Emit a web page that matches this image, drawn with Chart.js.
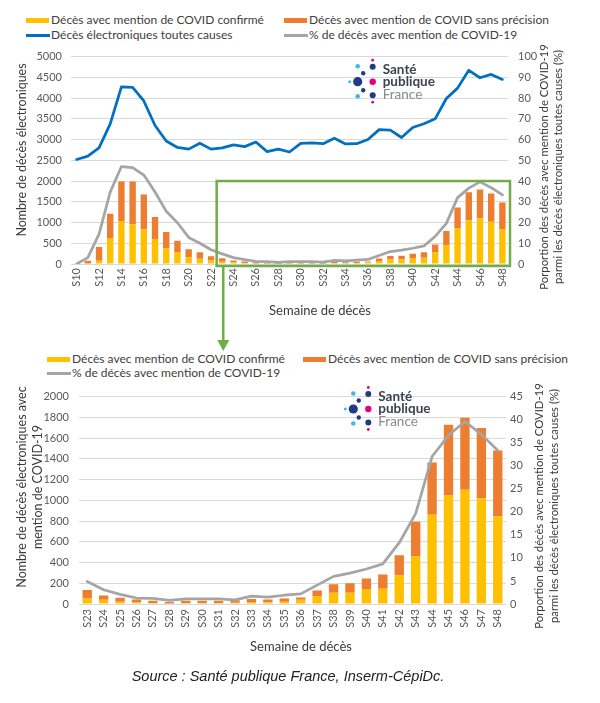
<!DOCTYPE html>
<html lang="fr">
<head>
<meta charset="utf-8">
<title>Décès avec mention de COVID-19</title>
<script src="https://cdn.jsdelivr.net/npm/chart.js@4.4.1/dist/chart.umd.min.js"></script>
<style>
html, body { margin: 0; padding: 0; background: #fff; }
#page { position: relative; width: 600px; height: 703px; overflow: hidden; font-family: Lato, "Open Sans", sans-serif; color: #404040; }
canvas { position: absolute; left: 0; }
.lg { position: absolute; font-size: 12px; line-height: 14px; white-space: nowrap; }
.sw { position: absolute; }
#src { position: absolute; left: 0; width: 576px; top: 668px; text-align: center; font: italic 14.5px "Liberation Sans", Arial, sans-serif; color: #222; }
</style>
</head>
<body>
<div id="page">
  <div id="legend"></div>
  <canvas id="chartAll" width="600" height="315" style="top:40px"></canvas>
  <canvas id="chartZoom" width="600" height="290" style="top:380px"></canvas>
  <div id="src">Source : Santé publique France, Inserm-CépiDc.</div>
</div>
<script>
// semaines de décès S10..S48
var weeks = ['S10','S11','S12','S13','S14','S15','S16','S17','S18','S19','S20','S21','S22','S23','S24','S25','S26','S27','S28','S29','S30','S31','S32','S33','S34','S35','S36','S37','S38','S39','S40','S41','S42','S43','S44','S45','S46','S47','S48'];
// décès avec mention de COVID confirmé
var confirmes = [0, 12, 80, 626, 1035, 960, 835, 603, 380, 290, 165, 125, 85, 53, 40, 22, 15, 10, 6, 10, 10, 10, 12, 20, 18, 22, 40, 74, 108, 108, 145, 148, 275, 460, 861, 1046, 1102, 1019, 846];
// décès avec mention de COVID sans précision
var sansPrecision = [0, 66, 327, 587, 955, 1030, 839, 531, 390, 273, 191, 157, 103, 83, 43, 39, 28, 21, 14, 21, 21, 21, 23, 29, 25, 30, 22, 56, 83, 92, 102, 136, 194, 333, 503, 682, 693, 679, 635];
// décès électroniques toutes causes
var toutesCauses = [2520, 2600, 2800, 3380, 4270, 4260, 3930, 3340, 2965, 2810, 2770, 2910, 2770, 2800, 2870, 2830, 2940, 2710, 2770, 2700, 2910, 2920, 2900, 3030, 2895, 2900, 3000, 3240, 3230, 3050, 3290, 3380, 3500, 3990, 4240, 4670, 4490, 4570, 4450];
// % de décès avec mention de COVID-19
var pctCovid = [0, 3.1, 14.4, 34.7, 47, 46.5, 42.9, 34.7, 25.4, 19.9, 12.8, 10, 6.9, 4.9, 3.1, 2.1, 1.3, 1.2, 0.8, 1.1, 1.1, 1.1, 0.9, 1.7, 1.5, 1.9, 2.2, 4.1, 6.0, 6.7, 7.6, 8.7, 13.3, 19.6, 32, 36.6, 39.6, 36.8, 33.3];

var zoomStart = weeks.indexOf('S23');

var YELLOW = '#FFC000', ORANGE = '#ED7D31', BLUE = '#0070C0', GREY = '#A5A5A5', GREEN = '#70AD47';
var GRID = '#D9D9D9', TICK = '#595959', TITLE = '#3a3a3a';

var labelConf = 'Décès avec mention de COVID confirmé';
var labelSans = 'Décès avec mention de COVID sans précision';
var labelTous = 'Décès électroniques toutes causes';
var labelPct = '% de décès avec mention de COVID-19';

// légendes html
function addLegend(x, y, color, kind, text) {
    var box = document.getElementById('legend');
    var sw = document.createElement('div');
    sw.className = 'sw';
    sw.style.left = x + 'px';
    sw.style.width = (kind == 'bar' ? 23 : 24) + 'px';
    sw.style.height = (kind == 'bar' ? 5 : 3) + 'px';
    sw.style.top = (y - (kind == 'bar' ? 2.5 : 1.5)) + 'px';
    sw.style.background = color;
    box.appendChild(sw);
    var t = document.createElement('div');
    t.className = 'lg';
    t.style.left = (x + 25) + 'px';
    t.style.top = (y - 7.5) + 'px';
    t.textContent = text;
    box.appendChild(t);
}
addLegend(26, 20.5, YELLOW, 'bar', labelConf);
addLegend(284, 20.5, ORANGE, 'bar', labelSans);
addLegend(26, 35.5, BLUE, 'line', labelTous);
addLegend(284, 35.5, GREY, 'line', labelPct);
addLegend(47, 359, YELLOW, 'bar', labelConf);
addLegend(303, 359, ORANGE, 'bar', labelSans);
addLegend(47, 373, GREY, 'line', labelPct);

function drawLogo(ctx, cx, cy) {
    var navy = '#1d3c85', pink = '#e6007e', cyan = '#3db9e8';
    var dots = [
        [0, -15.5, 2.3, cyan], [15, -15, 3, navy], [15, -21.5, 1.4, pink],
        [5.5, -8.5, 2.2, navy], [-8, 0, 1.5, cyan], [0, 0, 4.6, navy],
        [15, 0, 3.2, pink], [5.5, 8.5, 2.2, navy], [0, 14.5, 2.3, cyan],
        [15, 13.5, 3, navy], [15, 20.5, 1.4, pink]
    ];
    dots.forEach(function (d) {
        ctx.beginPath();
        ctx.arc(cx + d[0], cy + d[1], d[2], 0, Math.PI * 2);
        ctx.fillStyle = d[3];
        ctx.fill();
    });
    ctx.textAlign = 'left';
    ctx.textBaseline = 'middle';
    ctx.fillStyle = '#3d4150';
    ctx.font = 'bold 13.5px Lato';
    ctx.fillText('Santé', cx + 25, cy - 12);
    ctx.fillText('publique', cx + 25, cy);
    ctx.fillStyle = '#8a8a8a';
    ctx.font = '13.5px Lato';
    ctx.fillText('France', cx + 25, cy + 12.5);
}

// titres d'axes, logo, cadre vert
var decor = {
    id: 'decor',
    afterDraw: function (chart, args, opts) {
        var ctx = chart.ctx, off = opts.top;
        ctx.save();
        if (opts.zoomBox) {
            var x = chart.scales.x, y = chart.scales.y;
            var i = weeks.indexOf(opts.zoomBox.from);
            var left = (x.getPixelForValue(i - 1) + x.getPixelForValue(i)) / 2;
            var right = chart.chartArea.right + 2;
            var top = y.getPixelForValue(opts.zoomBox.top);
            var bottom = y.getPixelForValue(0) + 2;
            ctx.strokeStyle = GREEN;
            ctx.lineWidth = 2.5;
            ctx.strokeRect(left, top, right - left, bottom - top);
            var ax = x.getPixelForValue(i) + 1, end = opts.zoomBox.arrowTo - off;
            ctx.beginPath();
            ctx.moveTo(ax, bottom);
            ctx.lineTo(ax, end - 9);
            ctx.stroke();
            ctx.beginPath();
            ctx.moveTo(ax - 6, end - 11);
            ctx.lineTo(ax + 6, end - 11);
            ctx.lineTo(ax, end);
            ctx.closePath();
            ctx.fillStyle = GREEN;
            ctx.fill();
        }
        if (opts.logo) drawLogo(ctx, opts.logo[0], opts.logo[1] - off);
        ctx.fillStyle = TITLE;
        ctx.textAlign = 'center';
        ctx.textBaseline = 'middle';
        opts.titles.forEach(function (t) {
            ctx.save();
            ctx.translate(t.x, t.y - off);
            ctx.rotate(t.rot ? -Math.PI / 2 : 0);
            ctx.font = t.size + 'px Lato';
            ctx.fillText(t.text, 0, 0);
            ctx.restore();
        });
        ctx.restore();
    }
};

function lineSet(label, data, color, axis) {
    return {
        type: 'line', label: label, data: data, yAxisID: axis,
        borderColor: color, backgroundColor: color, borderWidth: 2.75,
        pointRadius: 0, tension: 0, borderJoinStyle: 'round', borderCapStyle: 'round',
        stack: label, order: 0
    };
}
function barSet(label, data, color) {
    return {
        type: 'bar', label: label, data: data, yAxisID: 'y', backgroundColor: color,
        stack: 'covid', order: 1, barPercentage: 0.57, categoryPercentage: 1
    };
}
var tickFont = { family: 'Lato', size: 11 };
function plain(v) { return String(v); }

new Chart(document.getElementById('chartAll'), {
    type: 'bar',
    data: {
        labels: weeks,
        datasets: [
            lineSet(labelTous, toutesCauses, BLUE, 'y'),
            lineSet(labelPct, pctCovid, GREY, 'y1'),
            barSet(labelConf, confirmes, YELLOW),
            barSet(labelSans, sansPrecision, ORANGE)
        ]
    },
    options: {
        responsive: false,
        animation: false,
        layout: { padding: { top: 11, left: 0, right: 0, bottom: 0 } },
        plugins: {
            legend: { display: false },
            tooltip: { enabled: false },
            decor: {
                top: 40,
                logo: [357.7, 81.7],
                zoomBox: { from: 'S23', top: 2000, arrowTo: 351 },
                titles: [
                    { text: 'Nombre de décès électroniques', x: 22, y: 150, rot: true, size: 12.5 },
                    { text: 'Porportion des décès avec mention de COVID-19', x: 544, y: 167, rot: true, size: 11.3 },
                    { text: 'parmi les décès électroniques toutes causes (%)', x: 558, y: 167, rot: true, size: 11.3 }
                    ,
                    { text: 'Semaine de décès', x: 320, y: 311, size: 13 }
                ]
            }
        },
        scales: {
            x: {
                stacked: true,
                grid: { display: false, drawTicks: false },
                border: { display: false },
                ticks: {
                    autoSkip: false, minRotation: 90, maxRotation: 90, padding: 4,
                    color: TICK, font: tickFont,
                    callback: function (v, i) { return i % 2 === 0 ? weeks[i] : ''; }
                },
                afterFit: function (s) { s.height = 91; }
            },
            y: {
                stacked: true, min: 0, max: 5000,
                grid: { color: GRID, drawTicks: false },
                border: { display: false },
                ticks: { stepSize: 500, padding: 9, color: TICK, font: tickFont, callback: plain },
                afterFit: function (s) { s.width = 71; }
            },
            y1: {
                position: 'right', min: 0, max: 100,
                grid: { drawOnChartArea: false, drawTicks: false },
                border: { display: false },
                ticks: { stepSize: 10, padding: 10, color: TICK, font: tickFont, callback: plain },
                afterFit: function (s) { s.width = 92; }
            }
        }
    },
    plugins: [decor]
});

new Chart(document.getElementById('chartZoom'), {
    type: 'bar',
    data: {
        labels: weeks.slice(zoomStart),
        datasets: [
            lineSet(labelPct, pctCovid.slice(zoomStart), GREY, 'y1'),
            barSet(labelConf, confirmes.slice(zoomStart), YELLOW),
            barSet(labelSans, sansPrecision.slice(zoomStart), ORANGE)
        ]
    },
    options: {
        responsive: false,
        animation: false,
        layout: { padding: { top: 8, left: 0, right: 0, bottom: 0 } },
        plugins: {
            legend: { display: false },
            tooltip: { enabled: false },
            decor: {
                top: 380,
                logo: [353.3, 409],
                titles: [
                    { text: 'Nombre de décès électroniques avec', x: 22, y: 487, rot: true, size: 12.5 },
                    { text: 'mention de COVID-19', x: 38, y: 487, rot: true, size: 12.5 },
                    { text: 'Porportion des décès avec mention de COVID-19', x: 539, y: 506, rot: true, size: 11.3 },
                    { text: 'parmi les décès électroniques toutes causes (%)', x: 554, y: 506, rot: true, size: 11.3 },
                    { text: 'Semaine de décès', x: 301, y: 647, size: 13 }
                ]
            }
        },
        scales: {
            x: {
                stacked: true,
                grid: { display: false, drawTicks: false },
                border: { display: false },
                ticks: { autoSkip: false, minRotation: 90, maxRotation: 90, padding: 5, color: TICK, font: tickFont },
                afterFit: function (s) { s.height = 66; }
            },
            y: {
                stacked: true, min: 0, max: 2000,
                grid: { color: GRID, drawTicks: false },
                border: { display: false },
                ticks: { stepSize: 200, padding: 10, color: TICK, font: tickFont, callback: plain },
                afterFit: function (s) { s.width = 79; }
            },
            y1: {
                position: 'right', min: 0, max: 45,
                grid: { drawOnChartArea: false, drawTicks: false },
                border: { display: false },
                ticks: { stepSize: 5, padding: 4, color: TICK, font: tickFont, callback: plain },
                afterFit: function (s) { s.width = 94; }
            }
        }
    },
    plugins: [decor]
});
</script>
</body>
</html>
